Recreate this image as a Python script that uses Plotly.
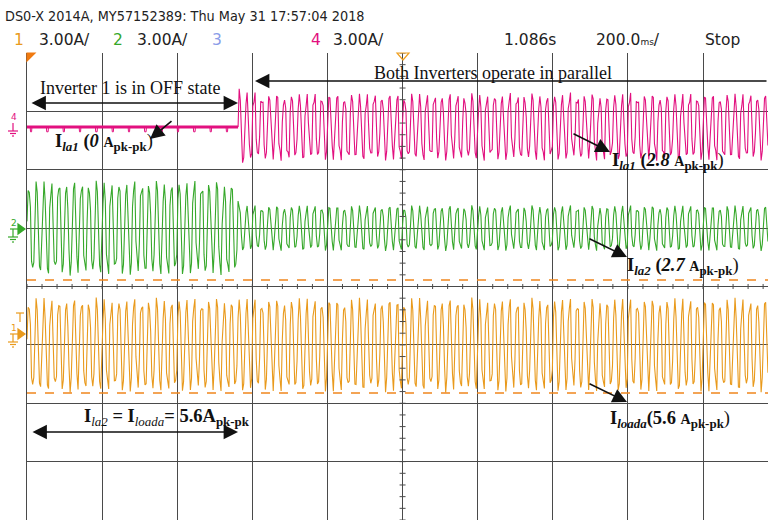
import numpy as np
import plotly.graph_objects as go

# ---- scope settings -------------------------------------------------------
amps_per_div = 3.0          # all channels 3.00 A/div
time_per_div = 0.2          # 200.0 ms/div
t_view = 1.973              # visible part of the 10-division record (s)
f_line = 50.0               # line frequency (Hz)
sample_rate = 331.0         # display decimation rate (Hz)
t_switch = 0.562            # instant inverter 1 is switched on (s)

# ---- channels (order: inverter 1, inverter 2, load) ----------------------
channel_names = ["I_la1", "I_la2", "I_loada"]
channel_colors = ["#e2107f", "#36a82a", "#e99a1c"]
channel_offsets = [8.2, 3.0, -3.0]       # trace position (A)
pkpk_before = [0.0, 5.6, 5.6]            # A pk-pk before t_switch
pkpk_after = [2.8, 2.7, 5.6]             # A pk-pk after t_switch
display_gain = [1.25, 0.87, 0.87]        # per-channel probe scaling on screen
third_harmonic = [0.16, 0.14, 0.12]      # relative 3rd-harmonic content
fifth_harmonic = [0.08, 0.07, 0.06]      # relative 5th-harmonic content
switching_ripple = [0.14, 0.12, 0.12]    # relative ripple leaking through the filter
ripple_freq = 137.0                      # apparent (aliased) ripple frequency (Hz)
inrush_ratio = 0.25                      # extra amplitude right after switching
inrush_tau = 0.015                       # inrush decay time (s)
off_ripple = 0.25                        # residual spikes of inverter 1 when off (A)

# load-channel cursors (A)
cursor_levels = [0.33, -5.47]

t = np.arange(0.0, t_view, 1.0 / sample_rate)
w = 2 * np.pi * f_line

fig = go.Figure()

for name, col, off, pb, pa, g, h3, h5, rp in zip(channel_names, channel_colors, channel_offsets,
                                                  pkpk_before, pkpk_after, display_gain,
                                                  third_harmonic, fifth_harmonic, switching_ripple):
    wave = (np.sin(w * t) + h3 * np.sin(3 * w * t + 0.6) + h5 * np.sin(5 * w * t + 1.3)
            + rp * np.sin(2 * np.pi * ripple_freq * t))
    wave = wave / (wave.max() - wave.min())
    pk = np.where(t < t_switch, pb, pa)
    y = off + g * pk * wave
    if pb == 0.0:
        before = t < t_switch
        tb = np.linspace(0, t_switch, 600)
        fig.add_trace(go.Scatter(x=[0, t_switch], y=[off, off], mode="lines",
                                 line=dict(color=col, width=3), hoverinfo="skip", showlegend=False))
        spikes = -off_ripple * (np.sin(2 * np.pi * 23 * tb) > 0.96)
        fig.add_trace(go.Scatter(x=tb, y=off + spikes, mode="lines",
                                 line=dict(color=col, width=1), hoverinfo="skip", showlegend=False))
        after = ~before
        ta = t[after]
        ya = off + g * pk[after] * wave[after] * (1 + inrush_ratio * np.exp(-(ta - t_switch) / inrush_tau))
        ta = np.concatenate([[t_switch], ta])
        ya = np.concatenate([[off], ya])
        fig.add_trace(go.Scatter(x=ta, y=ya, mode="lines",
                                 line=dict(color=col, width=1.1), name=name, showlegend=False))
    else:
        fig.add_trace(go.Scatter(x=t, y=y, mode="lines", line=dict(color=col, width=1.1),
                                 name=name, showlegend=False))

# minor ticks on the centre cross-hair
grid_col = "#4a4a4a"
t_mid = 5 * time_per_div
tx, ty = [], []
for v in np.arange(-4 * amps_per_div, 4 * amps_per_div + 0.01, amps_per_div / 5):
    tx += [t_mid - 0.008, t_mid + 0.008, None]
    ty += [v, v, None]
for s in np.arange(0, t_view, time_per_div / 5):
    tx += [s, s, None]
    ty += [-0.13, 0.13, None]
fig.add_trace(go.Scatter(x=tx, y=ty, mode="lines", line=dict(color=grid_col, width=1),
                         hoverinfo="skip", showlegend=False))

# cursors on the load channel
for lv in cursor_levels:
    fig.add_shape(type="line", xref="paper", yref="y", x0=0, x1=1, y0=lv, y1=lv,
                  line=dict(color="#f0861e", width=1.5, dash="dash"))

L, T, W, H = 27, 53, 741, 467


def px(x, y):
    return (x - L) / W, (T + H - y) / H


cond_font = "DejaVu Sans Condensed, DejaVu Sans, sans-serif"
hdr_font = "DejaVu Sans, sans-serif"
serif = "Liberation Serif, Times New Roman, serif"
ann = []


def text(x, y, s, size, color="#222", family=hdr_font, anchor="left"):
    xp, yp = px(x, y)
    ann.append(dict(x=xp, y=yp, xref="paper", yref="paper", text=s, showarrow=False,
                    xanchor=anchor, yanchor="middle", font=dict(family=family, size=size, color=color)))


def arrow(x_head, y_head, x_tail, y_tail, both=False):
    xp, yp = px(x_head, y_head)
    d = dict(x=xp, y=yp, xref="paper", yref="paper", text="", showarrow=True,
             ax=x_tail - x_head, ay=y_tail - y_head, arrowhead=2, arrowsize=1.8,
             arrowwidth=1.6, arrowcolor="#111")
    if both:
        d.update(arrowside="end+start", startarrowhead=2, startarrowsize=1.8)
    ann.append(d)


# header
text(3, 16, "DS0-X 2014A, MY57152389: Thu May 31 17:57:04 2018", 14.3, "#222", cond_font)
text(12, 40, "1", 15.5, channel_colors[2])
text(37, 40, "3.00A/", 15.5)
text(111, 40, "2", 15.5, channel_colors[1])
text(135, 40, "3.00A/", 15.5)
text(210, 40, "3", 15.5, "#8a9ce8")
text(309, 40, "4", 15.5, channel_colors[0])
text(331, 40, "3.00A/", 15.5)
text(502, 40, "1.086s", 15.5)
text(594, 40, "200.0<span style='font-size:9px'>ms</span>/", 15.5)
text(703, 40, "Stop", 15.5)

# annotations
A_ = "<span style='font-size:14px'>A</span>"
text(38, 88, "Inverter 1 is in OFF state", 18, "#111", serif)
arrow(238, 103, 30, 103, both=True)
text(372, 73, "Both Inverters operate in parallel", 18, "#111", serif)
arrow(255, 81, 790, 81)

text(53, 142, f"<b>I</b><b><sub><i>la1</i></sub> (<i>0</i> </b><b>{A_}<sub>pk-pk</sub></b>)",
     18.5, "#111", serif)
arrow(150, 139, 173, 120)

text(610, 161, f"<b>I</b><b><sub><i>la1</i></sub> (<i>2.8</i> </b><b>{A_}<sub>pk-pk</sub></b>)",
     18.5, "#111", serif)
arrow(610, 152, 572, 133)

text(625, 266, f"<b>I</b><b><sub><i>la2</i></sub> (<i>2.7</i> </b><b>{A_}<sub>pk-pk</sub></b>)",
     18.5, "#111", serif)
arrow(627, 257, 588, 238)

text(608, 420, f"<b>I</b><b><sub><i>loada</i></sub>(5.6 </b><b>{A_}<sub>pk-pk</sub></b>)",
     18.5, "#111", serif)
arrow(627, 402, 588, 383)

text(82, 417, "<b>I</b><sub><i>la2</i></sub><b> = I</b><sub><i>loada</i></sub><b>= 5.6A<sub>pk-pk</sub></b>",
     18.5, "#111", serif)
arrow(238, 432, 31, 432, both=True)

# channel ground markers and trigger markers
shapes = []


def pshape(path, color, fill=None):
    shapes.append(dict(type="path", xref="paper", yref="paper", path=path,
                       line=dict(color=color, width=1.2), fillcolor=fill or "rgba(0,0,0,0)"))


def pp(points, close=False):
    s = ""
    for i, (x, y) in enumerate(points):
        xp, yp = px(x, y)
        s += ("M" if i == 0 else "L") + f"{xp:.5f},{yp:.5f} "
    return s + ("Z" if close else "")


def ground_marker(yc, color, label):
    text(9, yc - 6, label, 9, color)
    pshape(pp([(18, yc - 5), (25, yc), (18, yc + 5)], close=True), color, color)
    pshape(pp([(10, yc), (18, yc)]), color)
    pshape(pp([(13, yc), (13, yc + 8)]), color)
    pshape(pp([(8, yc + 8), (18, yc + 8)]), color)
    pshape(pp([(10, yc + 10.5), (16, yc + 10.5)]), color)
    pshape(pp([(12, yc + 13), (14, yc + 13)]), color)


ground_marker(123, channel_colors[0], "4")
ground_marker(229, channel_colors[1], "2")
ground_marker(334, channel_colors[2], "1")
# trigger level mark
pshape(pp([(16, 313), (24, 313)]), channel_colors[2])
pshape(pp([(20, 313), (20, 322)]), channel_colors[2])
# trigger point marks on top edge
pshape(pp([(27, 53), (35, 53), (27, 61)], close=True), "#f07a10", "#f07a10")
pshape(pp([(397, 53), (409, 53), (403, 60)], close=True), "#f0a020")

fig.update_layout(
    width=768, height=520,
    margin=dict(l=L, r=0, t=T, b=0),
    paper_bgcolor="white", plot_bgcolor="white",
    annotations=ann, shapes=shapes,
    xaxis=dict(range=[0, t_view], dtick=time_per_div, tick0=0, showgrid=True, gridcolor=grid_col,
               gridwidth=1, showticklabels=False, zeroline=False, showline=True,
               linecolor=grid_col, mirror=False, ticks=""),
    yaxis=dict(range=[-4 * amps_per_div, 4 * amps_per_div], dtick=amps_per_div, tick0=0,
               showgrid=True, gridcolor=grid_col, gridwidth=1, showticklabels=False,
               zeroline=False, showline=True, linecolor=grid_col, ticks=""),
)

fig.write_html("out.html")
